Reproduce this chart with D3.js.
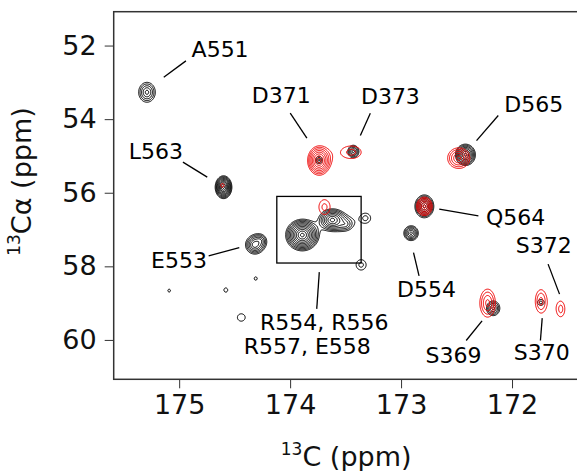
<!DOCTYPE html>
<html>
<head>
<meta charset="utf-8">
<script src="https://cdn.jsdelivr.net/npm/d3@7"></script>
<style>
  body { margin: 0; background: #fff; }
  svg { display: block; font-family: "DejaVu Sans", sans-serif; }
</style>
</head>
<body>
<svg id="chart" width="577" height="471"></svg>
<script>
// ---- Axis ticks ----
const xTicks = [175, 174, 173, 172];
const yTicks = [52, 54, 56, 58, 60];

// ---- Black spectrum: peak centres (ppm), footprint half-widths at the lowest contour (ppm), contour level count ----
const blackC    = [175.29, 174.60, 174.32, 174.27, 173.74, 173.43, 172.42, 172.79, 172.91, 173.89, 173.62, 173.50, 173.32, 173.36, 175.09, 174.58, 174.31, 174.44, 172.17, 171.74];
const blackCa   = [53.27,  55.85,  57.42,  57.30,  55.11,  54.88,  54.97,  56.37,  57.10,  57.15,  56.74,  56.86,  56.69,  57.96,  58.66,  58.64,  58.33,  59.39,  59.14,  58.98];
const blackHalfC  = [0.075, 0.075, 0.08, 0.04, 0.03, 0.05, 0.09, 0.085, 0.065, 0.15, 0.12, 0.05, 0.045, 0.045, 0.012, 0.012, 0.012, 0.035, 0.06, 0.03];
const blackHalfCa = [0.27,  0.31,  0.24, 0.12, 0.10, 0.17, 0.29, 0.31,  0.20,  0.43, 0.30, 0.13, 0.13,  0.14,  0.04,  0.04,  0.04,  0.10,  0.20, 0.08];
const blackLevels = [5, 10, 6, 3, 3, 5, 8, 8, 6, 11, 8, 3, 2, 2, 1, 1, 1, 1, 5, 2];

// ---- Red spectrum ----
const redC    = [173.74, 173.45, 172.48, 172.79, 174.61, 173.69, 172.22, 171.74, 171.56];
const redCa   = [55.13,  54.90,  55.06,  56.37,  55.80,  56.39,  59.00,  58.95,  59.16];
const redHalfC  = [0.10, 0.09, 0.10, 0.07, 0.015, 0.05, 0.07, 0.05, 0.035];
const redHalfCa = [0.38, 0.17, 0.28, 0.25, 0.05,  0.20, 0.38, 0.31, 0.20];
const redLevels = [8, 2, 5, 6, 1, 2, 4, 3, 2];

// ---- Assignment labels: text anchor (ppm) and leader line ends (ppm) ----
const labelText = ["A551", "D371", "D373", "D565", "L563", "Q564", "S372", "E553", "D554", "R554, R556", "R557, E558", "S369", "S370"];
const labelC    = [174.631, 174.080, 173.096, 171.804, 175.210, 171.967, 171.714, 175.002, 172.771, 173.692, 173.846, 172.527, 171.732];
const labelCa   = [52.315, 53.557, 53.584, 53.802, 55.087, 56.872, 57.641, 58.041, 58.821, 59.726, 60.378, 60.630, 60.541];
const leaderC1  = [175.139, 173.999, 173.277, 172.124, 174.966, 172.656, 171.675, 174.734, 172.888, 173.737, 172.413, 171.744];
const leaderCa1 = [52.859, 53.837, 53.837, 53.902, 55.168, 56.446, 57.940, 57.715, 57.625, 58.158, 60.016, 60.016];
const leaderC2  = [174.939, 173.849, 173.367, 172.320, 174.747, 172.303, 171.572, 174.458, 172.838, 173.760, 172.270, 171.728];
const leaderCa2 = [52.416, 54.516, 54.446, 54.582, 55.576, 56.628, 58.755, 57.489, 58.258, 59.155, 59.481, 59.408];

// Boxed region of the overlapping arginine / glutamate cross-peaks
const boxC  = [174.12, 173.36];
const boxCa = [56.10, 57.91];

// ---- Layout ----
const svg = d3.select("#chart");
const plotLeft = 113.7, plotRight = 578.6, plotTop = 11.7, plotBottom = 379.3;

const x = d3.scaleLinear().domain([175.59, 171.4]).range([plotLeft, plotRight]);
const y = d3.scaleLinear().domain([51.08, 61.07]).range([plotTop, plotBottom]);

// ---- Contour rendering of the spectra ----
const levelFactor = 1.3;   // ratio between successive contour levels
const shapePower = 1.4;    // peak profile exp(-r^p)
const step = 1;            // grid spacing in px
const nx = Math.ceil((plotRight - plotLeft) / step) + 1;
const ny = Math.ceil((plotBottom - plotTop) / step) + 1;
const colIndex = c => (x(c) - plotLeft) / step;
const rowIndex = ca => (y(ca) - plotTop) / step;

function field(cs, cas, hc, hca, lev) {
  const v = new Float64Array(nx * ny);
  const lnF = Math.log(levelFactor);
  cs.forEach((c, k) => {
    const lnA = (lev[k] - 0.5) * lnF;
    const amp = Math.exp(lnA);
    const s = Math.pow(lnA, 1 / shapePower);
    const sc = hc[k] / s, sca = hca[k] / s;
    const rMax = Math.pow(lnA + Math.log(1e4), 1 / shapePower);
    const i0 = Math.max(0, Math.floor(colIndex(c + rMax * sc)));
    const i1 = Math.min(nx - 1, Math.ceil(colIndex(c - rMax * sc)));
    const j0 = Math.max(0, Math.floor(rowIndex(cas[k] - rMax * sca)));
    const j1 = Math.min(ny - 1, Math.ceil(rowIndex(cas[k] + rMax * sca)));
    for (let j = j0; j <= j1; j++) {
      const dy = (y.invert(plotTop + j * step) - cas[k]) / sca;
      for (let i = i0; i <= i1; i++) {
        const dx = (x.invert(plotLeft + i * step) - c) / sc;
        const r = Math.sqrt(dx * dx + dy * dy);
        v[j * nx + i] += amp * Math.exp(-Math.pow(r, shapePower));
      }
    }
  });
  return v;
}

const proj = d3.geoTransform({
  point(gx, gy) {
    this.stream.point(
      x(x.invert(plotLeft + (gx - 0.5) * step)),
      y(y.invert(plotTop + (gy - 0.5) * step))
    );
  }
});
const path = d3.geoPath(proj);

svg.append("clipPath").attr("id", "plotClip")
  .append("rect").attr("x", plotLeft).attr("y", plotTop)
  .attr("width", plotRight - plotLeft).attr("height", plotBottom - plotTop);

const plot = svg.append("g").attr("clip-path", "url(#plotClip)");

function drawSpectrum(cs, cas, hc, hca, lev, color) {
  const vals = field(cs, cas, hc, hca, lev);
  const thresholds = d3.range(d3.max(lev) + 3).map(i => Math.pow(levelFactor, i));
  const polys = d3.contours().size([nx, ny]).thresholds(thresholds)(vals);
  plot.append("g")
    .selectAll("path")
    .data(polys)
    .join("path")
    .attr("d", path)
    .attr("fill", "none")
    .attr("stroke", color)
    .attr("stroke-width", 1)
    .attr("stroke-linejoin", "round");
}

drawSpectrum(blackC, blackCa, blackHalfC, blackHalfCa, blackLevels, "#000");
drawSpectrum(redC, redCa, redHalfC, redHalfCa, redLevels, "#ee0000");

// Box around the crowded region
svg.append("rect")
  .attr("x", x(boxC[0])).attr("y", y(boxCa[0]))
  .attr("width", x(boxC[1]) - x(boxC[0]))
  .attr("height", y(boxCa[1]) - y(boxCa[0]))
  .attr("fill", "none").attr("stroke", "#000").attr("stroke-width", 1.3);

// Leader lines
svg.append("g").selectAll("line")
  .data(leaderC1)
  .join("line")
  .attr("x1", (d, i) => x(leaderC1[i])).attr("y1", (d, i) => y(leaderCa1[i]))
  .attr("x2", (d, i) => x(leaderC2[i])).attr("y2", (d, i) => y(leaderCa2[i]))
  .attr("stroke", "#000").attr("stroke-width", 1.3);

// Assignment labels
svg.append("g").selectAll("text")
  .data(labelText)
  .join("text")
  .attr("x", (d, i) => x(labelC[i]))
  .attr("y", (d, i) => y(labelCa[i]))
  .attr("text-anchor", "middle")
  .attr("font-size", 22)
  .attr("fill", "#000")
  .text(d => d);

// ---- Axes ----
const xAxis = svg.append("g")
  .attr("transform", `translate(0,${plotBottom})`)
  .call(d3.axisBottom(x).tickValues(xTicks).tickSize(9).tickPadding(7).tickFormat(d3.format("d")));
const yAxis = svg.append("g")
  .attr("transform", `translate(${plotLeft},0)`)
  .call(d3.axisLeft(y).tickValues(yTicks).tickSize(9).tickPadding(8).tickFormat(d3.format("d")));

[xAxis, yAxis].forEach(g => {
  g.select(".domain").remove();
  g.selectAll(".tick line").attr("stroke", "#333").attr("stroke-width", 1);
  g.selectAll(".tick text").attr("font-size", 27).attr("fill", "#111")
    .attr("font-family", "DejaVu Sans, sans-serif");
});

// Frame
svg.append("rect")
  .attr("x", plotLeft).attr("y", plotTop)
  .attr("width", plotRight - plotLeft).attr("height", plotBottom - plotTop)
  .attr("fill", "none").attr("stroke", "#333").attr("stroke-width", 1.5);

// Axis titles
const xTitle = svg.append("text")
  .attr("x", (plotLeft + plotRight) / 2).attr("y", 466)
  .attr("text-anchor", "middle").attr("font-size", 27).attr("fill", "#111");
xTitle.append("tspan").attr("font-size", 17).attr("dy", -11).text("13");
xTitle.append("tspan").attr("dy", 11).text("C (ppm)");

const yTitle = svg.append("text")
  .attr("transform", `translate(31,${(plotTop + plotBottom) / 2 - 14}) rotate(-90)`)
  .attr("text-anchor", "middle").attr("font-size", 27).attr("fill", "#111");
yTitle.append("tspan").attr("font-size", 17).attr("dy", -11).text("13");
yTitle.append("tspan").attr("dy", 11).text("Cα (ppm)");
</script>
</body>
</html>
